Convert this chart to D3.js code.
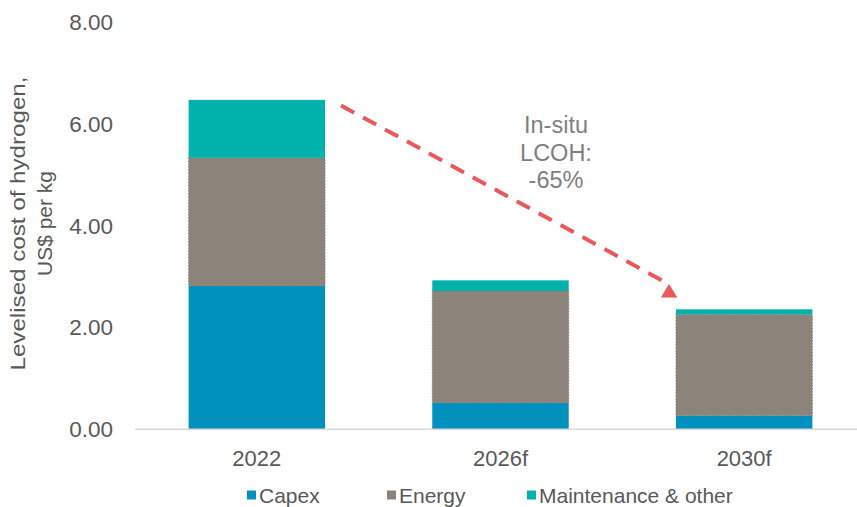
<!DOCTYPE html>
<html>
<head>
<meta charset="utf-8">
<script src="https://cdn.jsdelivr.net/npm/d3@7/dist/d3.min.js"></script>
<style>
  html, body { margin: 0; padding: 0; background: #fff; }
  svg { display: block; font-family: "Liberation Sans", Arial, sans-serif; }
</style>
</head>
<body>
<svg id="chart" width="857" height="507"></svg>
<script>
const categories = ["2022", "2026f", "2030f"];
const seriesNames = ["Capex", "Energy", "Maintenance & other"];
const capex = [2.82, 0.52, 0.27];
const energy = [2.52, 2.20, 1.99];
const maintenance = [1.14, 0.21, 0.10];
const yTicks = [0, 2, 4, 6, 8];
const annotationLines = ["In-situ", "LCOH:", "-65%"];
const arrowFrom = { cat: "2022", value: 6.37 };
const arrowTo = { cat: "2030f", value: 2.86 };

const colors = { "Capex": "#0191bf", "Energy": "#8c847b", "Maintenance & other": "#00b1ac" };

const svg = d3.select("#chart");
const W = 857, H = 507;

const x = d3.scaleBand().domain(categories).range([135, 866]).paddingInner(0.44).paddingOuter(0.22);
const y = d3.scaleLinear().domain([0, 8]).range([429.3, 22.6]);

const rows = categories.map((c, i) => ({ cat: c, "Capex": capex[i], "Energy": energy[i], "Maintenance & other": maintenance[i] }));
const stacked = d3.stack().keys(seriesNames)(rows);

// y tick labels
const yAxis = d3.axisLeft(y).tickValues(yTicks).tickFormat(d3.format(".2f")).tickSize(0).tickPadding(0);
const yg = svg.append("g").attr("transform", "translate(113,0)").call(yAxis);
yg.select(".domain").remove();
yg.selectAll("text").attr("fill", "#595959").style("font-size", "22.5px").style("font-family", "Liberation Sans, Arial, sans-serif");

// bars
svg.append("g").selectAll("g").data(stacked).join("g")
  .attr("fill", d => colors[d.key])
  .selectAll("rect").data(d => d.map(v => Object.assign({ key: d.key }, v))).join("rect")
  .attr("x", d => x(d.data.cat))
  .attr("width", x.bandwidth())
  .attr("y", d => y(d[1]))
  .attr("height", d => y(d[0]) - y(d[1]))
  .attr("stroke", d => d.key === "Energy" ? "#7b746c" : "none")
  .attr("stroke-width", 0.8)
  .attr("stroke-dasharray", "1.5,1.5");

// x axis line
svg.append("line").attr("x1", 135).attr("x2", W).attr("y1", y(0)).attr("y2", y(0))
  .attr("stroke", "#d9d9d9").attr("stroke-width", 1.5);

// x axis labels
const xAxis = d3.axisBottom(x).tickSize(0).tickPadding(0);
const xg = svg.append("g").attr("transform", `translate(0,${y(0) + 21})`).call(xAxis);
xg.select(".domain").remove();
xg.selectAll("text").attr("fill", "#595959").attr("dy", "0.71em").style("font-size", "22px").style("font-family", "Liberation Sans, Arial, sans-serif");

// y axis title
const title = svg.append("text")
  .attr("transform", "translate(0,223.5) rotate(-90)")
  .attr("text-anchor", "middle")
  .attr("fill", "#595959")
  .style("font-size", "21px");
title.append("tspan").attr("x", 0).attr("y", 25).attr("textLength", 294).attr("lengthAdjust", "spacingAndGlyphs").text("Levelised cost of hydrogen,");
title.append("tspan").attr("x", 0).attr("y", 52).text("US$ per kg");

// arrow annotation
const x0 = x(arrowFrom.cat) + x.bandwidth() + 16;
const y0 = y(arrowFrom.value);
const tipX = x(arrowTo.cat) - 7;
const tipY = y(arrowTo.value);
svg.append("line")
  .attr("x1", x0).attr("y1", y0)
  .attr("x2", tipX - 6).attr("y2", tipY - 3)
  .attr("stroke", "#e9595b").attr("stroke-width", 4)
  .attr("stroke-dasharray", "15,10");
svg.append("path")
  .attr("d", `M${tipX},${tipY} L${tipX + 8.5},${tipY + 13.5} L${tipX - 8},${tipY + 13.5} Z`)
  .attr("fill", "#e9595b");

const ann = svg.append("text").attr("text-anchor", "middle").attr("fill", "#7f7f7f").style("font-size", "23.5px");
annotationLines.forEach((t, i) => {
  ann.append("tspan").attr("x", 556).attr("y", 133.3 + i * 27.5).text(t);
});

// legend
const legendX = [247, 387, 527];
const lg = svg.append("g").selectAll("g").data(seriesNames).join("g")
  .attr("transform", (d, i) => `translate(${legendX[i]},495)`);
lg.append("rect").attr("x", 0).attr("y", -4.5).attr("width", 9).attr("height", 9).attr("fill", d => colors[d]);
lg.append("text").attr("x", 12).attr("y", 0).attr("dy", "0.36em").attr("fill", "#595959").style("font-size", "21px").text(d => d);
</script>
</body>
</html>
